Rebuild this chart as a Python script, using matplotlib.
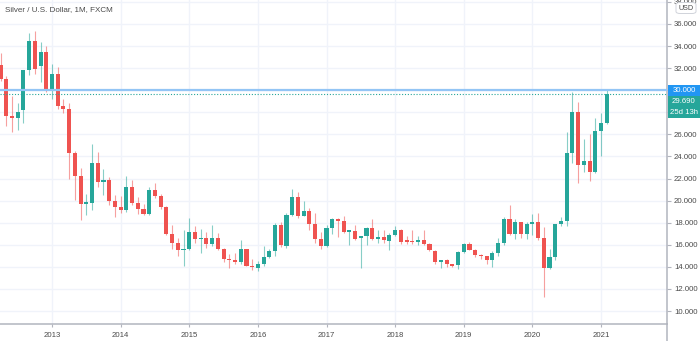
import matplotlib
matplotlib.use("Agg")
import matplotlib.pyplot as plt
import numpy as np
from matplotlib.patches import Rectangle, FancyBboxPatch
from matplotlib.lines import Line2D

plt.rcParams['font.family'] = ['Liberation Sans', 'DejaVu Sans']

title = "Silver / U.S. Dollar, 1M, FXCM"
currency = "USD"
first_year, first_month = 2012, 4          # first monthly candle: April 2012
year_labels = [2013, 2014, 2015, 2016, 2017, 2018, 2019, 2020, 2021]
price_ticks = list(range(10, 40, 2))
alert_level = 30.0
last_price = 29.69
countdown = "25d 13h"

# Monthly OHLC, Apr 2012 .. Feb 2021
opens = [
    32.3, 31.0, 27.7, 27.5, 28.2, 31.8, 34.5, 32.2, 33.45,                        # 2012
    30.0, 31.45, 28.6, 28.3, 24.35, 22.2, 19.7, 19.8, 23.45, 21.7, 21.85, 19.95,   # 2013
    19.45, 19.15, 21.2, 19.75, 19.2, 18.8, 21.0, 20.4, 19.45, 17.0, 16.15, 15.5,   # 2014
    15.6, 17.2, 16.5, 16.6, 16.05, 16.65, 15.6, 14.75, 14.6, 14.45, 15.6, 14.1,    # 2015
    13.87, 14.23, 14.87, 15.4, 17.8, 15.85, 18.7, 20.36, 18.65, 19.1, 17.9, 16.5,  # 2016
    15.9, 17.5, 18.3, 18.2, 17.15, 17.25, 16.58, 16.8, 17.5, 16.55, 16.7, 16.35,   # 2017
    16.87, 17.3, 16.4, 16.37, 16.28, 16.43, 16.07, 15.47, 14.47, 14.6, 14.23, 14.17,  # 2018
    15.37, 16.07, 15.55, 15.1, 14.95, 14.6, 15.3, 16.2, 18.3, 16.98, 18.04, 16.98,    # 2019
    17.9, 18.04, 16.64, 13.93, 14.93, 17.86, 18.15, 24.3, 28.06, 23.23, 23.62, 22.63, # 2020
    26.3, 27.06,                                                                     # 2021
]
highs = [
    33.4, 31.3, 29.5, 28.8, 31.8, 35.2, 35.4, 34.4, 34.0,
    32.4, 32.1, 29.2, 28.8, 24.5, 22.95, 20.6, 25.1, 24.45, 22.9, 22.1, 20.55,
    20.4, 22.2, 21.9, 20.3, 19.7, 21.2, 21.6, 20.6, 19.5, 17.8, 16.6, 17.3,
    18.45, 17.7, 17.4, 17.2, 17.8, 17.1, 15.7, 15.2, 15.3, 16.45, 15.6, 14.7,
    14.5, 15.9, 15.6, 17.95, 18.1, 18.9, 21.1, 20.8, 20.0, 19.3, 18.9, 17.2,
    17.8, 18.45, 18.4, 18.6, 17.35, 17.8, 16.8, 17.6, 18.3, 17.3, 17.3, 17.07,
    17.7, 17.4, 16.8, 17.35, 16.8, 17.35, 16.2, 15.5, 14.65, 14.75, 14.25, 15.4,
    16.2, 16.3, 15.6, 15.2, 14.95, 15.45, 16.6, 18.55, 19.6, 18.3, 18.1, 18.1,
    18.8, 18.9, 17.6, 15.6, 17.9, 18.5, 26.25, 29.87, 28.96, 25.55, 26.0, 27.46,
    27.97, 30.08,
]
lows = [
    30.8, 26.8, 26.2, 26.4, 27.0, 31.4, 31.5, 30.7, 29.8,
    29.2, 28.3, 27.9, 22.0, 20.1, 18.25, 18.7, 19.15, 21.2, 20.55, 19.6, 18.55,
    18.9, 19.0, 19.6, 18.8, 18.7, 18.7, 20.2, 19.2, 16.9, 15.6, 15.0, 14.1,
    15.5, 16.15, 15.3, 15.7, 15.9, 15.5, 14.4, 13.9, 14.3, 14.3, 14.05, 13.75,
    13.6, 14.1, 14.8, 15.0, 15.8, 15.75, 18.6, 18.4, 18.6, 17.3, 16.15, 15.6,
    15.8, 17.0, 16.7, 17.1, 15.98, 16.4, 13.9, 16.0, 16.4, 16.2, 16.2, 15.5,
    16.8, 16.1, 16.1, 16.1, 16.0, 16.0, 15.4, 14.26, 13.9, 14.0, 13.95, 13.8,
    15.3, 15.5, 14.9, 14.7, 14.3, 14.0, 15.0, 16.0, 16.9, 16.5, 16.6, 16.5,
    16.9, 16.4, 11.24, 13.8, 14.6, 17.73, 17.73, 23.38, 21.63, 22.55, 21.8, 22.5,
    24.04, 26.9,
]
closes = [
    31.0, 27.7, 27.5, 28.0, 31.8, 34.5, 31.9, 33.45, 30.0,
    31.45, 28.6, 28.3, 24.35, 22.2, 19.7, 19.9, 23.45, 21.7, 21.9, 20.0, 19.45,
    19.15, 21.2, 19.75, 19.2, 18.8, 21.0, 20.4, 19.45, 17.0, 16.15, 15.5, 15.6,
    17.2, 16.5, 16.6, 16.05, 16.65, 15.6, 14.7, 14.6, 14.45, 15.6, 14.1, 13.95,
    14.23, 14.87, 15.4, 17.8, 16.0, 18.7, 20.36, 18.65, 19.1, 17.9, 16.5, 15.9,
    17.5, 18.3, 18.2, 17.15, 17.3, 16.55, 16.8, 17.5, 16.55, 16.7, 16.4, 16.87,
    17.3, 16.3, 16.25, 16.26, 16.43, 16.07, 15.5, 14.47, 14.6, 14.23, 14.1, 15.37,
    16.07, 15.55, 15.1, 14.95, 14.6, 15.3, 16.2, 18.3, 16.96, 18.04, 16.98, 17.85,
    18.04, 16.64, 13.93, 14.93, 17.86, 18.15, 24.3, 28.06, 23.23, 23.62, 22.63, 26.3,
    27.06, 29.69,
]

UP = '#26a69a'
DOWN = '#ef5350'
GRID = '#f0f3fa'
AXIS = '#b2b5be'
TEXT = '#4a4a4a'

o = np.array(opens); h = np.array(highs); l = np.array(lows); c = np.array(closes)
start = (first_year - year_labels[0]) * 12 + (first_month - 1)
x = start + np.arange(len(o))
up = c >= o
body_lo = np.minimum(o, c)
body_h = np.maximum(np.abs(c - o), 0.09)

W, H = 700, 341
fig = plt.figure(figsize=(W / 100, H / 100), dpi=100)
ax_left, ax_bottom, ax_right, ax_top = 0, 17, 667, 341
ax = fig.add_axes([ax_left / W, ax_bottom / H, (ax_right - ax_left) / W, (ax_top - ax_bottom) / H])

px_per_month = 5.719
x0_px = 52.0
ax.set_xlim(-x0_px / px_per_month, (ax_right - x0_px) / px_per_month)
ax.set_ylim(8.83, 38.17)

# grid
for k in range(len(year_labels)):
    ax.axvline(k * 12, color=GRID, lw=1.0, zorder=0)
for p in price_ticks:
    ax.axhline(p, color=GRID, lw=1.0, zorder=0)

# wicks and bodies
cols = [UP if u else DOWN for u in up]
ax.vlines(x, l, h, colors=cols, linewidth=0.8, alpha=0.55, zorder=2)
ax.bar(x, body_h, bottom=body_lo, width=0.72, color=cols, linewidth=0, zorder=3)

# alert line and last price line
ax.axhline(alert_level, color='#93c5f5', lw=1.6, zorder=4)
ax.axhline(last_price, color=UP, lw=0.8, ls=(0, (1, 1.6)), zorder=4)

# axes styling
for s in ['top', 'left']:
    ax.spines[s].set_visible(False)
for s in ['bottom', 'right']:
    ax.spines[s].set_color(AXIS)
    ax.spines[s].set_linewidth(1.1)
ax.yaxis.tick_right()
ax.set_yticks(price_ticks)
ax.set_xticks([k * 12 for k in range(len(year_labels))])
ax.set_xticklabels([str(y) for y in year_labels])
ax.tick_params(axis='y', direction='out', length=3, width=0.8, color=AXIS,
               labelsize=5.6, labelcolor=TEXT, pad=2)
ax.tick_params(axis='x', direction='out', length=2, width=0.8, color=AXIS,
               labelsize=5.6, labelcolor=TEXT, pad=4)

# right axis line continues below the time axis
fig.add_artist(Line2D([ax_right / W, ax_right / W], [0, ax_bottom / H],
                      transform=fig.transFigure, color=AXIS, lw=1.1))

# title
fig.text(5 / W, 1 - 10 / H, title, fontsize=5.8, color=TEXT, va='center', ha='left')

# price labels on the right scale (they hide the scale labels underneath)
y_alert_px = ax.transData.transform((0, alert_level))[1]
box_h = 10.6
labels = [(f"{alert_level:.3f}", '#2196f3'),
          (f"{last_price:.3f}", UP),
          (countdown, UP)]
box_top = y_alert_px + box_h / 2
box_bottom = y_alert_px - (len(labels) - 0.5) * (box_h + 0.4)
tick_texts = []
for p in price_ticks:
    py = ax.transData.transform((0, p))[1]
    tick_texts.append("" if box_bottom - 3 <= py <= box_top + 3 else f"{p:.3f}")
ax.set_yticklabels(tick_texts)

for i, (txt, col) in enumerate(labels):
    cy = y_alert_px - i * (box_h + 0.4)
    fig.add_artist(Rectangle((668 / W, (cy - box_h / 2) / H), 32 / W, box_h / H,
                             transform=fig.transFigure, facecolor=col, edgecolor='none'))
    fig.text(684 / W, cy / H, txt, fontsize=5.6, color='white', ha='center', va='center')

# currency badge, drawn over the clipped top scale label
fig.add_artist(FancyBboxPatch((676 / W, 1 - 13.5 / H), 20 / W, 11 / H,
                              boxstyle='round,pad=0,rounding_size=0.006',
                              transform=fig.transFigure, facecolor='white',
                              edgecolor='#d0d3da', lw=0.7, zorder=5))
fig.text(686 / W, 1 - 8 / H, currency, fontsize=5.2, color=TEXT, ha='center', va='center',
         zorder=6)

fig.savefig('out.png', dpi=100, facecolor='white')
